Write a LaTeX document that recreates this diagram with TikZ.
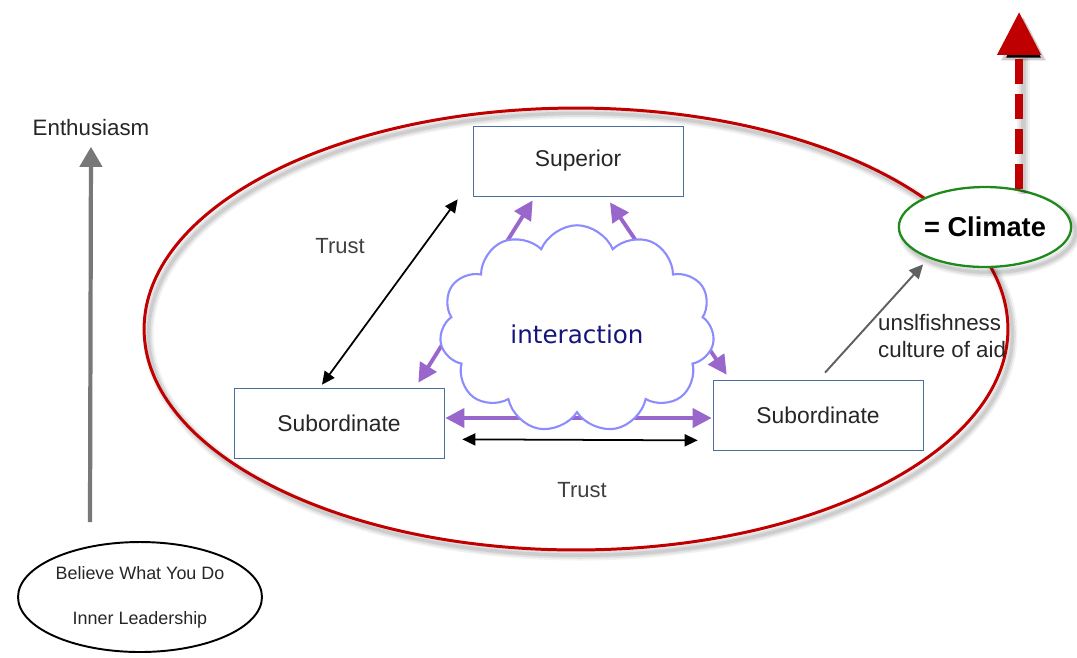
\documentclass[tikz,border=0pt]{standalone}
\usepackage{fontspec}
\setmainfont{Liberation Sans}
\newfontfamily\cloudfont{DejaVu Sans}
\usetikzlibrary{arrows.meta, calc, backgrounds, shapes.geometric, shapes.symbols}
\definecolor{FrameRed}{HTML}{C00000}
\definecolor{BoxBlue}{HTML}{4A6E9E}
\definecolor{CloudBlue}{HTML}{8C8CFF}
\definecolor{LinkPurple}{HTML}{9966CC}
\definecolor{NavyInk}{HTML}{14147A}
\definecolor{LeafGreen}{HTML}{1E8A1E}
\definecolor{InkGray}{HTML}{262626}
\definecolor{NoteGray}{HTML}{404040}
\definecolor{ArrowGray}{HTML}{606060}
\tikzset{
  softshadow/.style={
    preaction={draw=black, draw opacity=.05, line width=#1+4pt, transform canvas={shift={(2.5pt,-3pt)}}},
    preaction={draw=black, draw opacity=.07, line width=#1+2pt, transform canvas={shift={(2.5pt,-3pt)}}},
    preaction={draw=black, draw opacity=.09, line width=#1, transform canvas={shift={(2.5pt,-3pt)}}}},
  softshadow/.default=2pt,
  orbit/.style={ellipse, draw=FrameRed, line width=1.7pt, minimum width=17.28cm, minimum height=8.84cm, softshadow},
  rolebox/.style={draw=BoxBlue, fill=white, minimum width=4.2cm, minimum height=1.4cm, text=InkGray, font=\fontsize{13}{15}\selectfont},
  puff/.style={cloud, cloud puffs=11, cloud puff arc=135, cloud ignores aspect, minimum width=5.5cm, minimum height=4.15cm, draw=CloudBlue, line width=1.2pt, fill=white, text=NavyInk, text height=17pt, text depth=0pt, font=\cloudfont\fontsize{14}{16}\selectfont},
  climatebox/.style={ellipse, draw=LeafGreen, line width=1.3pt, fill=white, inner sep=0pt, minimum width=3.32cm, minimum height=1.6cm, font=\bfseries\fontsize{15.5}{18}\selectfont, softshadow},
  belief/.style={ellipse, draw=black, line width=1.1pt, inner sep=0pt, minimum width=4.88cm, minimum height=2.2cm, align=center, text=InkGray, font=\fontsize{10.2}{25.5}\selectfont},
  note/.style={text=NoteGray, font=\fontsize{12.5}{15}\selectfont},
  plaintext/.style={text=InkGray, font=\fontsize{12.7}{15.3}\selectfont},
  linkarrow/.style={{Triangle[length=0.38cm, width=0.38cm]}-{Triangle[length=0.38cm, width=0.38cm]}, line width=2.2pt, draw=LinkPurple},
  trustarrow/.style={{Triangle[length=0.26cm, width=0.24cm]}-{Triangle[length=0.26cm, width=0.24cm]}, line width=1pt, draw=black},
  pointer/.style={-{Triangle[length=0.28cm, width=0.26cm]}, line width=1.1pt, draw=ArrowGray},
  rootarrow/.style={-{Triangle[length=0.4cm, width=0.44cm]}, line width=2.4pt, draw=ArrowGray!85},
  risearrow/.style={-{Triangle[length=0.86cm, width=0.84cm]}, line width=4.5pt, draw=FrameRed, dash pattern=on 0.5cm off 0.2cm, softshadow=3pt}
}

\begin{document}
\begin{tikzpicture}[x=0.02cm, y=-0.02cm]
\useasboundingbox (0,0) rectangle (1077,657);

% the team
\node[orbit] (team) at (576,329) {};
\node[rolebox] (sup) at (578,161) {Superior};
\node[rolebox] (subL) at (339,423) {Subordinate};
\node[rolebox] (subR) at (818,415) {Subordinate};
\node[puff] (cloud) at (577,329) {interaction};

% interaction links run behind the cloud
\begin{scope}[on background layer]
\draw[linkarrow] ($(subL.north east)+(-26,-5)$) -- ($(sup.south west)+(60,4)$);
\draw[linkarrow] ($(sup.south)+(32,6)$) -- ($(subR.north west)+(14,-5)$);
\draw[linkarrow] ($(subL.east)+(1,-5)$) -- ($(subR.west)+(-1,3)$);
\end{scope}

\draw[trustarrow] ($(sup.south west)+(-15,3)$) -- ($(subL.north)+(-17,-3)$);
\draw[trustarrow] ($(subL.south east)+(18,-19)$) -- ($(subR.south west)+(-15,-10)$);
\node[note] (trustA) at (340,246) {Trust};
\node[note] (trustB) at (582,490) {Trust};

% climate
\node[climatebox] (climate) at (985,227) {= Climate};
\coordinate (peak) at (1018,12);
\draw[risearrow] (climate.48) -- (climate.48 |- peak);
\draw[pointer] ($(subR.north)+(7,-7)$) -- ($(climate.211)+(-8,5)$);
\node[plaintext, align=left, anchor=west] (aid) at (872,336) {unslfishness\\culture of aid};

% inner leadership
\node[belief] (inner) at (140,597) {Believe What You Do\\Inner Leadership};
\node[plaintext] (enth) at (91,128) {Enthusiasm};
\coordinate (rise) at (90,522);
\draw[rootarrow, shorten >=2.5pt] (rise) -- (enth.south);
\end{tikzpicture}
\end{document}
